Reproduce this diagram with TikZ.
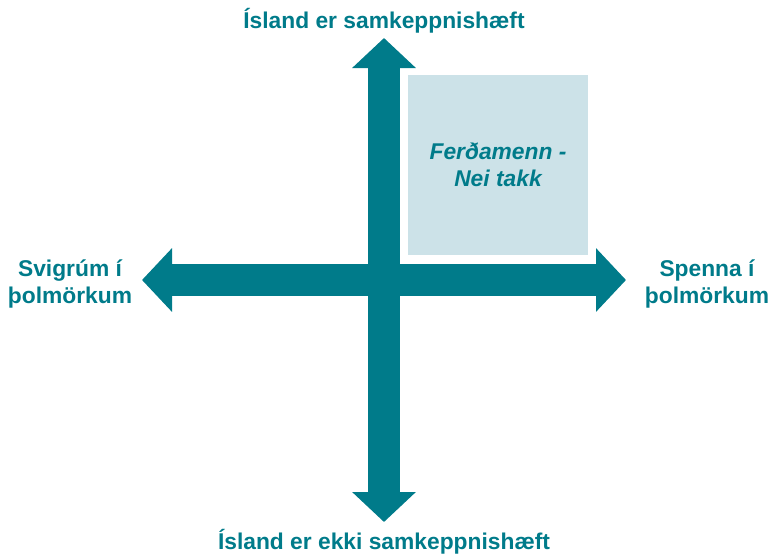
\documentclass[tikz,border=0pt]{standalone}
\usepackage{fontspec}
\setmainfont{Liberation Sans}
\usepackage{xcolor}
\usetikzlibrary{arrows.meta}
\definecolor{axisteal}{HTML}{007B8A}
\definecolor{quadblue}{HTML}{CCE2E8}

\begin{document}
\begin{tikzpicture}[x=1pt, y=-1pt,
	axis/.style={draw=axisteal, line width=32pt,
		{Triangle[width=62pt, length=30pt]}-{Triangle[width=62pt, length=30pt]}},
	lab/.style={text=axisteal, font=\bfseries\fontsize{22.8}{27}\selectfont, align=center},
	quad/.style={fill=quadblue, minimum width=180pt, minimum height=180pt, text=axisteal,
		font=\bfseries\itshape\fontsize{22.8}{27}\selectfont, align=center}]
	\useasboundingbox (0,0) rectangle (770,555);
	\coordinate (top) at (384,38);
	\coordinate (bot) at (384,522);
	\coordinate (lft) at (142,280);
	\coordinate (rgt) at (626,280);
	\node[quad] (q) at (498,165) {Ferðamenn -\\Nei takk};
	\draw[axis] (bot) -- (top);
	\draw[axis] (lft) -- (rgt);
	\node[lab] (n) at (384,21) {Ísland er samkeppnishæft};
	\node[lab] (s) at (384,542) {Ísland er ekki samkeppnishæft};
	\node[lab] (w) at (70,284) {Svigrúm í\\þolmörkum};
	\node[lab] (e) at (707,284) {Spenna í\\þolmörkum};
\end{tikzpicture}
\end{document}
